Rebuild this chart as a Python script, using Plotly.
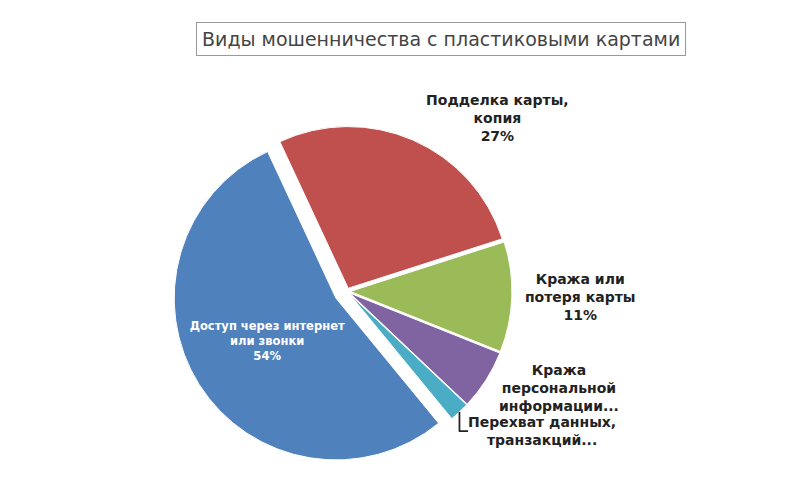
import plotly.graph_objects as go

labels = ["Подделка карты,<br>копия", "Кража или<br>потеря карты", "Кража<br>персональной<br>информации...",
          "Перехват данных,<br>транзакций...", "Доступ через интернет<br>или звонки"]
values = [27, 11, 6, 2, 54]
colors = ["#C0504D", "#9BBB59", "#8064A2", "#4BACC6", "#4F81BD"]
positions = ["outside", "outside", "outside", "outside", "inside"]
pulls = [0.02, 0.02, 0.02, 0.02, 0.08]
templates = ["<b>%{label}<br>%{percent:.0%}</b>", "<b>%{label}<br>%{percent:.0%}</b>",
             "<b>%{label}</b>", "<b>%{label}</b>", "<b>%{label}<br>%{percent:.0%}</b>"]

fig = go.Figure(go.Pie(
    labels=labels, values=values, sort=False, direction="clockwise", rotation=-25,
    marker=dict(colors=colors, line=dict(color="#ffffff", width=1)),
    pull=pulls, textposition=positions, texttemplate=templates,
    insidetextorientation="horizontal",
    insidetextfont=dict(color="white", size=14),
    outsidetextfont=dict(color="#222222", size=14),
    showlegend=False,
    domain=dict(x=[0.0, 0.72], y=[0.0, 0.78]),
))

fig.add_annotation(text="Виды мошенничества с пластиковыми картами", x=0.5, y=0.99,
                   xref="paper", yref="paper", showarrow=False,
                   font=dict(size=19, color="#444444", family="DejaVu Sans"),
                   bordercolor="#999999", borderwidth=1, borderpad=5, bgcolor="white")

fig.update_layout(width=794, height=483, margin=dict(l=10, r=10, t=10, b=10),
                  paper_bgcolor="white", font=dict(family="DejaVu Sans"))
fig.write_html("out.html")
